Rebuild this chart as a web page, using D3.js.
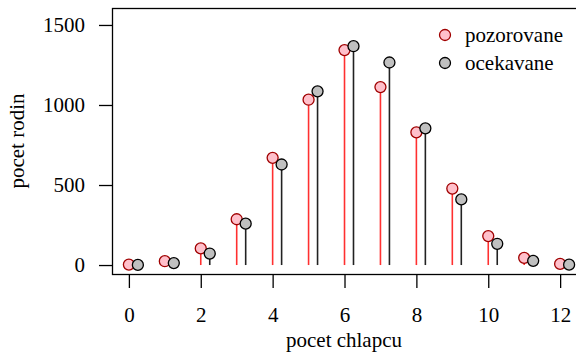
<!DOCTYPE html>
<html>
<head>
<meta charset="utf-8">
<script src="https://cdn.jsdelivr.net/npm/d3@7"></script>
<style>
  html, body { margin: 0; padding: 0; background: #fff; }
  svg { display: block; font-family: "Liberation Serif", "DejaVu Serif", serif; }
</style>
</head>
<body>
<svg id="chart" width="576" height="353"></svg>
<script>
// Number of boys among 12 children: observed vs. binomial expected counts
const boys = [0, 1, 2, 3, 4, 5, 6, 7, 8, 9, 10, 11, 12];
const observed = [3, 24, 104, 286, 670, 1033, 1343, 1112, 829, 478, 181, 45, 7];
const expected = [0.9, 12.1, 71.8, 258.5, 628.1, 1085.2, 1367.3, 1265.6, 854.2, 410.0, 132.8, 26.1, 2.3];
const xTicks = [0, 2, 4, 6, 8, 10, 12];
const yTicks = [0, 500, 1000, 1500];
const legendLabels = ["pozorovane", "ocekavane"];

const svg = d3.select("#chart");
const plotLeft = 112, plotRight = 586, plotTop = 8, plotBottom = 274;
const fontSize = 21;

const x = d3.scaleLinear().domain([-0.47, 12.72]).range([plotLeft, plotRight]);
const y = d3.scaleLinear().domain([-56, 1606]).range([plotBottom, plotTop]);
const offset = 0.25;

// plot frame (right edge falls outside the canvas)
svg.append("rect")
  .attr("x", plotLeft + 0.5).attr("y", plotTop + 0.5)
  .attr("width", plotRight - plotLeft).attr("height", plotBottom - plotTop)
  .attr("fill", "none").attr("stroke", "#000").attr("stroke-width", 1.3);

// axes
const yAxis = svg.append("g")
  .attr("transform", `translate(${plotLeft},0)`)
  .call(d3.axisLeft(y).tickValues(yTicks).tickSize(13).tickPadding(14).tickFormat(d3.format("d")));
yAxis.select(".domain").remove();

const xAxis = svg.append("g")
  .attr("transform", `translate(0,${plotBottom})`)
  .call(d3.axisBottom(x).tickValues(xTicks).tickSize(14).tickFormat(d3.format("d")));
xAxis.select(".domain").remove();
xAxis.selectAll(".tick text").attr("y", 48).attr("dy", null);

svg.selectAll(".tick line").attr("stroke", "#000").attr("stroke-width", 1.3);
svg.selectAll(".tick text")
  .attr("fill", "#000")
  .style("font-family", "'Liberation Serif', serif")
  .style("font-size", fontSize + "px");

// axis titles
svg.append("text")
  .attr("x", (plotLeft + 576) / 2).attr("y", 347)
  .attr("text-anchor", "middle").attr("font-size", fontSize)
  .text("pocet chlapcu");
svg.append("text")
  .attr("transform", `translate(24,${(plotTop + plotBottom) / 2}) rotate(-90)`)
  .attr("text-anchor", "middle").attr("font-size", fontSize)
  .text("pocet rodin");

// stems
svg.append("g").selectAll("line")
  .data(boys)
  .join("line")
  .attr("x1", d => x(d)).attr("x2", d => x(d))
  .attr("y1", y(0)).attr("y2", (d, i) => y(observed[i]))
  .attr("stroke", "#ff3030").attr("stroke-width", 1.6);

svg.append("g").selectAll("line")
  .data(boys)
  .join("line")
  .attr("x1", d => x(d + offset)).attr("x2", d => x(d + offset))
  .attr("y1", y(0)).attr("y2", (d, i) => y(expected[i]))
  .attr("stroke", "#222").attr("stroke-width", 1.6);

// points
svg.append("g").selectAll("circle")
  .data(boys)
  .join("circle")
  .attr("cx", d => x(d)).attr("cy", (d, i) => y(observed[i]))
  .attr("r", 5.5)
  .attr("fill", "#ffc0cb").attr("stroke", "#a00000").attr("stroke-width", 1.3);

svg.append("g").selectAll("circle")
  .data(boys)
  .join("circle")
  .attr("cx", d => x(d + offset)).attr("cy", (d, i) => y(expected[i]))
  .attr("r", 5.5)
  .attr("fill", "#c0c0c0").attr("stroke", "#000").attr("stroke-width", 1.3);

// legend
const legendStyles = [
  { fill: "#ffc0cb", stroke: "#a00000" },
  { fill: "#c0c0c0", stroke: "#000" }
];
const legend = svg.append("g");
legendLabels.forEach((lab, i) => {
  const cy = 35 + i * 28;
  legend.append("circle")
    .attr("cx", 445).attr("cy", cy).attr("r", 5.5)
    .attr("fill", legendStyles[i].fill).attr("stroke", legendStyles[i].stroke).attr("stroke-width", 1.3);
  legend.append("text")
    .attr("x", 465).attr("y", cy + 7)
    .attr("font-size", fontSize)
    .text(lab);
});
</script>
</body>
</html>
